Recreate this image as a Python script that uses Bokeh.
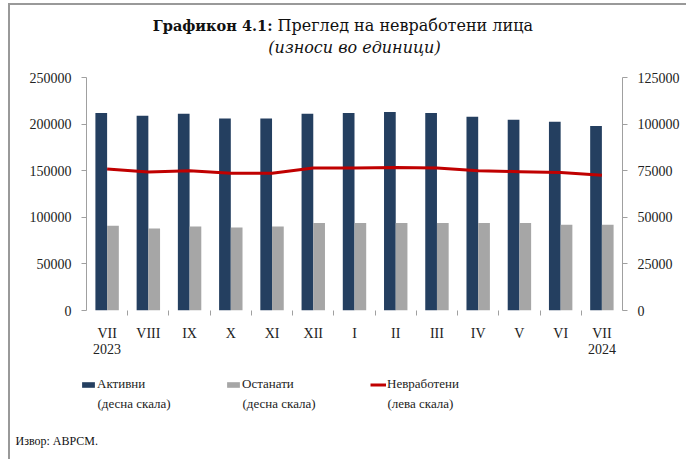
from bokeh.plotting import figure
from bokeh.layouts import column
from bokeh.models import (Range1d, LinearAxis, FixedTicker, NumeralTickFormatter,
                          Legend, LegendItem, ColumnDataSource)
from bokeh.core.properties import value
from bokeh.transform import dodge
from bokeh.embed import file_html
from bokeh.resources import INLINE

# ---- data ----
months = ["VII\n2023", "VIII", "IX", "X", "XI", "XII", "I", "II", "III", "IV", "V", "VI", "VII\n2024"]
active = [106000, 104500, 105500, 103000, 103000, 105500, 106000, 106500, 106000, 104000, 102300, 101200, 99000]
other = [45500, 44000, 45000, 44500, 45000, 47000, 47000, 47000, 47000, 47000, 47000, 46000, 46000]
unemployed = [151800, 148500, 150000, 147200, 147200, 152800, 153000, 153300, 153000, 150000, 149000, 148000, 145000]
left_ticks = [0, 50000, 100000, 150000, 200000, 250000]
right_ticks = [0, 25000, 50000, 75000, 100000, 125000]
series_names = ["Активни", "Останати", "Невработени"]
scale_notes = ["(десна скала)", "(десна скала)", "(лева скала)"]
title_bold = "Графикон 4.1:"
title_rest = "Преглед на невработени лица"
subtitle = "(износи во единици)"
source_note = "Извор: АВРСМ."

FONT = "Liberation Serif"
TFONT = "DejaVu Serif"
DARK, GREY, RED = "#243F60", "#A6A6A6", "#C00000"
W = 676
TOP_H, MAIN_H, BOT_H = 57, 300, 97
NAN = float("nan")

def text_fig(h):
    f = figure(width=W, height=h, output_backend="svg", toolbar_location=None,
               x_range=Range1d(0, W), y_range=Range1d(h, 0),
               x_axis_location=None, y_axis_location=None, min_border=0)
    f.outline_line_color = None
    f.grid.visible = False
    f.frame_align = False
    return f

# ---- title figure ----
top = text_fig(TOP_H)
top.text(x=[262], y=[20], text=[title_bold], text_align="right", text_baseline="middle",
         text_font=value(TFONT), text_font_style="bold", text_font_size="14.5px", text_color="#111111")
top.text(x=[267], y=[20], text=[title_rest], text_align="left", text_baseline="middle",
         text_font=value(TFONT), text_font_size="16px", text_color="#111111")
top.text(x=[344], y=[42], text=[subtitle], text_align="center", text_baseline="middle",
         text_font=value(TFONT), text_font_style="italic", text_font_size="16px", text_color="#111111")

# ---- main chart ----
n = len(months)
pos = [i + 0.5 for i in range(n)]
src = ColumnDataSource(dict(x=pos, active=active, other=other, unemp=unemployed))

FL, FR, FT, FB = 76, 612, 15, 248
p = figure(width=W, height=MAIN_H, output_backend="svg", toolbar_location=None,
           x_range=Range1d(0, n), y_range=Range1d(left_ticks[0], left_ticks[-1]),
           min_border_left=FL, min_border_right=W - FR, min_border_top=FT,
           min_border_bottom=MAIN_H - FB)
p.frame_align = False
p.extra_y_ranges = {"right": Range1d(right_ticks[0], right_ticks[-1])}
p.outline_line_color = None
p.grid.visible = False

r1 = p.vbar(x=dodge("x", -0.142, range=p.x_range), top="active", width=0.284, source=src,
            y_range_name="right", fill_color=DARK, line_color=None)
r2 = p.vbar(x=dodge("x", 0.142, range=p.x_range), top="other", width=0.284, source=src,
            y_range_name="right", fill_color=GREY, line_color=None)
r3 = p.line(x="x", y="unemp", source=src, line_color=RED, line_width=3)

xa = p.xaxis[0]
xa.ticker = FixedTicker(ticks=pos, minor_ticks=list(range(1, n)))
xa.major_label_overrides = {pos[i]: months[i] for i in range(n)}
xa.axis_line_color = None
xa.major_tick_line_color = None
xa.minor_tick_line_color = "#A0A0A0"
xa.minor_tick_out = 5
xa.minor_tick_in = 0
xa.major_label_standoff = 9
xa.major_label_text_font = FONT
xa.major_label_text_font_size = "14px"
xa.major_label_text_line_height = 1.1
xa.major_label_text_color = "#222222"

ya = p.yaxis[0]
ya.ticker = FixedTicker(ticks=left_ticks)
ya.formatter = NumeralTickFormatter(format="0")
ra = LinearAxis(y_range_name="right", ticker=FixedTicker(ticks=right_ticks),
                formatter=NumeralTickFormatter(format="0"))
p.add_layout(ra, "right")
for ax in (ya, ra):
    ax.axis_line_color = "#A0A0A0"
    ax.major_tick_line_color = "#A0A0A0"
    ax.major_tick_out = 5
    ax.major_tick_in = 0
    ax.minor_tick_line_color = None
    ax.major_label_standoff = 10
    ax.major_label_text_font = FONT
    ax.major_label_text_font_size = "14px"
    ax.major_label_text_color = "#222222"

# ---- legend + source figure ----
bot = text_fig(BOT_H)
g1 = bot.vbar(x=[NAN], top=[NAN], width=1, fill_color=DARK, line_color=None)
g2 = bot.vbar(x=[NAN], top=[NAN], width=1, fill_color=GREY, line_color=None)
g3 = bot.line(x=[NAN], y=[NAN], line_color=RED, line_width=3)
legend = Legend(items=[LegendItem(label=series_names[i], renderers=[g])
                       for i, g in enumerate([g1, g2, g3])],
                orientation="horizontal", location=(70, 67),
                background_fill_alpha=0, border_line_color=None,
                glyph_width=16, glyph_height=7, label_standoff=1, label_width=70, spacing=58,
                padding=0, margin=0, label_text_font=FONT, label_text_font_size="13px",
                label_text_color="#222222")
bot.add_layout(legend)
note_x = [87, 232, 377]
bot.text(x=note_x, y=[41] * len(scale_notes), text=scale_notes, text_align="left",
         text_baseline="middle", text_font=value(FONT), text_font_size="13px", text_color="#222222")
bot.text(x=[5], y=[78], text=[source_note], text_align="left", text_baseline="middle",
         text_font=value(FONT), text_font_size="12px", text_color="#111111")

layout = column(top, p, bot, spacing=0,
                styles={"border-left": "2px solid #999999", "border-top": "2px solid #999999",
                        "margin-left": "8px", "margin-top": "3px"})

open("out.html", "w").write(file_html(layout, INLINE))
